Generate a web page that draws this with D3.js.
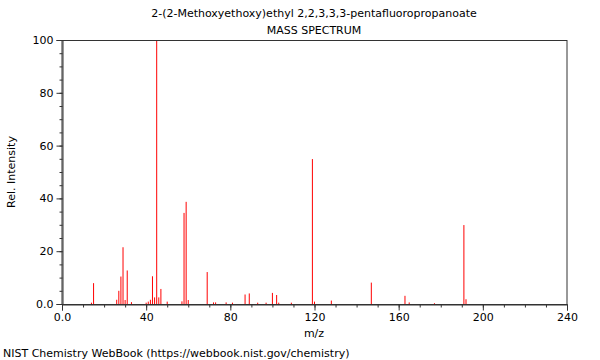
<!DOCTYPE html>
<html><head><meta charset="utf-8">
<script src="https://cdn.jsdelivr.net/npm/d3@7"></script>
<style>body{margin:0;background:#fff}svg{display:block}text{font-family:"DejaVu Sans",sans-serif;font-size:11px;fill:#000}</style>
</head><body><svg id="c" width="600" height="360"></svg>
<script>
const titleLines = ["2-(2-Methoxyethoxy)ethyl 2,2,3,3,3-pentafluoropropanoate", "MASS SPECTRUM"];
const mz  = [14,15,26,27,28,29,30,31,33,40,41,42,43,44,45,46,47,50,57,58,59,60,69,72,73,78,81,87,89,93,97,100,102,103,109,119,120,128,147,163,165,177,191,192];
const rel = [0.5,7.9,1.6,5,10.4,21.5,1.5,12.7,0.7,0.5,0.9,1.6,10.5,2.5,100,2.5,5.7,0.9,1,34.5,38.7,1.5,12.1,0.6,0.6,0.6,0.5,3.6,4,0.5,0.5,4.2,3.4,0.5,0.5,54.9,0.9,1.3,8.1,3.1,0.6,0.3,29.9,1.8];
const xTicks = [0,40,80,120,160,200,240];
const xTickLabels = ["0.0","40","80","120","160","200","240"];
const yTicks = [0,20,40,60,80,100];
const yTickLabels = ["0.0","20","40","60","80","100"];

const svg = d3.select("#c");
const L=62, R=567, T=40, B=304;
const x = d3.scaleLinear().domain([0,240]).range([L,R]);
const y = d3.scaleLinear().domain([0,100]).range([B,T]);
const axisCol = "#333";

svg.selectAll("text.title").data(titleLines).enter().append("text")
  .attr("x",314).attr("y",(d,i)=>17+i*17).attr("text-anchor","middle").text(d=>d);

// peaks
svg.append("g").selectAll("line").data(mz).enter().append("line")
  .attr("x1",(d)=>x(d)).attr("x2",(d)=>x(d))
  .attr("y1",y(0)).attr("y2",(d,i)=>y(rel[i]))
  .attr("stroke","#ff0000").attr("stroke-width",1);

// frame
svg.append("rect").attr("x",L).attr("y",T+0.5).attr("width",R-L).attr("height",B-T)
  .attr("fill","none").attr("stroke",axisCol).attr("stroke-width",1);

// x axis
const xa = d3.axisBottom(x).tickValues(xTicks).tickSize(6).tickPadding(3)
  .tickFormat((d,i)=>xTickLabels[i]);
const gx = svg.append("g").attr("transform",`translate(0,${B+0.5})`).call(xa);
gx.select(".domain").attr("stroke",axisCol);
gx.selectAll(".tick line").attr("stroke",axisCol);
gx.selectAll("text").style("font-family","DejaVu Sans").style("font-size","11px").attr("fill","#000");
const xa2 = d3.axisBottom(x).tickValues(d3.range(0,241,10)).tickSize(3).tickFormat("");
const gx2 = svg.append("g").attr("transform",`translate(0,${B+0.5})`).call(xa2);
gx2.select(".domain").remove();
gx2.selectAll(".tick line").attr("stroke",axisCol);

// y axis
const ya = d3.axisLeft(y).tickValues(yTicks).tickSize(6).tickPadding(3)
  .tickFormat((d,i)=>yTickLabels[i]);
const gy = svg.append("g").attr("transform",`translate(${L+0.5},0)`).call(ya);
gy.select(".domain").attr("stroke",axisCol);
gy.selectAll(".tick line").attr("stroke",axisCol);
gy.selectAll("text").style("font-family","DejaVu Sans").style("font-size","11px").attr("fill","#000");
const ya2 = d3.axisLeft(y).tickValues(d3.range(0,101,5)).tickSize(3).tickFormat("");
const gy2 = svg.append("g").attr("transform",`translate(${L+0.5},0)`).call(ya2);
gy2.select(".domain").remove();
gy2.selectAll(".tick line").attr("stroke",axisCol);

svg.append("text").attr("x",314).attr("y",337).attr("text-anchor","middle").text("m/z");
svg.append("text").attr("transform","translate(15,172) rotate(-90)").attr("text-anchor","middle").text("Rel. Intensity");
svg.append("text").attr("x",3).attr("y",357).text("NIST Chemistry WebBook (https://webbook.nist.gov/chemistry)");
</script></body></html>
